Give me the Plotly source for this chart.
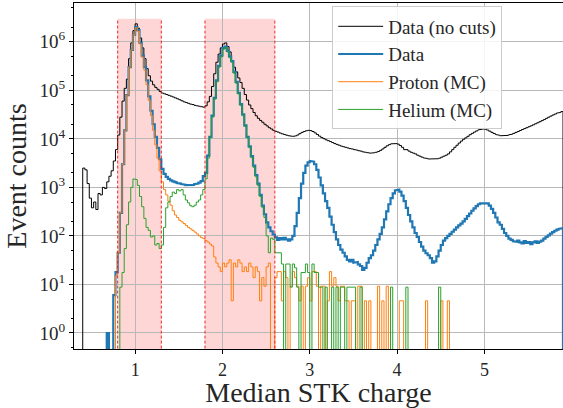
import numpy as np
import plotly.graph_objects as go

# ---------------- data (bin contents, bins of width 0.025 starting at 0.4) ----------------
bin_start = 0.4
bin_width = 0.025

no_cuts = [
    2500, 2300, 1200, 600, 380, 500, 350, 750, 700, 1000, 950, 1300, 1700, 2200, 3500, 6000, 12000, 28000, 60000, 110000,
    170000, 450000, 950000, 1.7e6, 2.35e6, 1.9e6, 1.2e6, 750000, 450000, 280000, 200000, 155000, 130000, 115000, 105000, 95000, 88000, 85000, 82000, 79000,
    76000, 73000, 70000, 67000, 64000, 61000, 58000, 56000, 54000, 52000, 51000, 49000, 48000, 47000, 46000, 45000, 48000, 58000, 75000, 120000,
    220000, 380000, 560000, 750000, 900000, 950000, 800000, 620000, 400000, 300000, 240000, 180000, 145000, 110000, 82000, 63000, 50000, 42000, 35000, 30000,
    26500, 24000, 22000, 20000, 18500, 17000, 16000, 15000, 14300, 13800, 13200, 12700, 12300, 11900, 11600, 11400, 11300, 11500, 12000, 12800,
    13600, 14200, 14700, 15000, 14800, 14200, 13300, 12300, 11400, 10700, 10100, 9600, 9200, 8800, 8400, 8000, 7700, 7400, 7100, 6900,
    6700, 6500, 6300, 6200, 6000, 5900, 5700, 5600, 5400, 5300, 5200, 5100, 5100, 5200, 5300, 5500, 5800, 6200, 6700, 7200,
    7600, 7900, 8100, 8000, 7800, 7300, 6700, 6000, 6000, 5600, 5300, 5100, 4900, 4600, 4400, 4200, 4050, 3950, 3850, 3800,
    3800, 3800, 3900, 4000, 4200, 4400, 4600, 4900, 5400, 6000, 6700, 7400, 8200, 9000, 9800, 10500, 11300, 12200, 13000, 13800,
    14600, 15300, 15800, 16000, 15800, 15200, 14400, 13600, 12900, 12300, 11900, 11600, 11500, 11600, 11800, 12100, 12500, 13000, 13600, 14200,
    14900, 15600, 16300, 17000, 17800, 18600, 19500, 20500, 21500, 22600, 23800, 25000, 26500, 28000, 29500, 31000, 32500, 34000, 35000, 36500,
]

data = [
    0, 0, 0, 0, 0, 0, 0, 0, 0, 0, 0, 1, 0, 0, 6, 18, 45, 300, 3000, 15000,
    80000, 300000, 680000, 1.4e6, 2.0e6, 1.75e6, 950000, 520000, 300000, 160000, 75000, 38000, 20000, 11000, 6500, 3800, 2400, 1900, 1650, 1500,
    1400, 1330, 1280, 1230, 1200, 1170, 1140, 1120, 1100, 1110, 1130, 1160, 1200, 1260, 1350, 1700, 2000, 4500, 11000, 30000,
    70000, 160000, 320000, 520000, 750000, 800000, 650000, 500000, 400000, 240000, 150000, 89000, 52000, 32000, 19000, 11000, 7000, 4400, 2800, 1800,
    1200, 700, 420, 280, 190, 150, 125, 107, 93, 83, 90, 85, 91, 85, 80, 85, 100, 160, 300, 600,
    1200, 2000, 2800, 3300, 3500, 3400, 3000, 2300, 1600, 1100, 750, 520, 380, 250, 170, 120, 85, 65, 52, 45,
    38, 32, 30, 32, 28, 29, 26, 24, 20, 22, 28, 35, 40, 50, 65, 85, 110, 150, 220, 320,
    450, 600, 750, 870, 900, 820, 680, 520, 380, 270, 200, 150, 115, 95, 75, 60, 50, 44, 40, 35,
    28, 30, 38, 50, 65, 80, 90, 100, 110, 122, 135, 150, 165, 180, 200, 225, 255, 290, 330, 370,
    410, 450, 470, 480, 480, 470, 420, 360, 300, 240, 190, 170, 140, 115, 100, 88, 83, 78, 76, 80,
    74, 70, 78, 72, 75, 68, 74, 77, 72, 76, 80, 88, 95, 103, 112, 120, 128, 135, 140, 145,
]

proton_mc = [
    0, 0, 0, 0, 0, 0, 0, 0, 0, 0, 0, 0, 0, 0, 0, 15, 45, 300, 3000, 15000,
    80000, 300000, 680000, 1.4e6, 1.95e6, 1.65e6, 900000, 480000, 260000, 130000, 62000, 30000, 15000, 7500, 4000, 2200, 1300, 900, 700, 520,
    430, 330, 270, 240, 210, 195, 180, 165, 150, 140, 130, 120, 110, 100, 92, 88, 80, 75, 68, 62,
    36.8, 27.6, 23, 18.4, 27.6, 23, 27.6, 32.2, 4.6, 27.6, 23, 32.2, 27.6, 18.4, 23, 18.4, 27.6, 23, 13.8, 23,
    18.4, 4.6, 13.8, 9.2, 23, 27.6, 0, 0, 13.8, 18.4, 18.4, 4.6, 18.4, 13.8, 0, 9.2, 18.4, 13.8, 9.2, 4.6,
    9.2, 0, 9.2, 13.8, 4.6, 18.4, 18.4, 9.2, 0, 9.2, 9.2, 0, 4.6, 18.4, 9.2, 13.8, 9.2, 4.6, 9.2, 9.2,
    4.6, 4.6, 0, 4.6, 4.6, 0, 9.2, 9.2, 0, 4.6, 0, 4.6, 0, 0, 0, 9.2, 0, 4.6, 0, 9.2,
    0, 0, 0, 0, 0, 4.6, 4.6, 0, 0, 0, 0, 0, 0, 0, 0, 0, 0, 4.6, 0, 0,
    0, 0, 0, 0, 4.6, 0, 0, 4.6, 0, 0, 0, 0, 0, 0, 0, 0, 0, 0, 0, 0,
    0, 0, 0, 0, 0, 0, 0, 0, 0, 0, 0, 0, 0, 0, 0, 0, 0, 0, 0, 0,
    0, 0, 0, 0, 0, 0, 0, 0, 0, 0, 0, 0, 0, 0, 0, 0, 0, 0, 0, 0,
]

helium_mc = [
    0, 0, 0, 0, 0, 0, 0, 0, 0, 0, 0, 0, 0, 0, 0, 0, 0, 8.8, 17.6, 55,
    170, 500, 1000, 1500, 1450, 1100, 650, 400, 230, 150, 130, 95, 100, 65, 70, 55, 65, 150, 380, 500,
    650, 800, 750, 900, 850, 900, 700, 550, 480, 420, 400, 430, 500, 550, 700, 900, 1500, 4000, 10500, 28000,
    66000, 150000, 300000, 490000, 700000, 760000, 620000, 470000, 380000, 225000, 140000, 84000, 49000, 30000, 18000, 10500, 6600, 4100, 2600, 1650,
    1100, 650, 390, 240, 100, 45, 90, 85, 45, 45, 45, 26.4, 0, 26.4, 26.4, 8.8, 26.4, 22, 8.8, 0,
    17.6, 17.6, 26.4, 17.6, 0, 26.4, 17.6, 17.6, 8.8, 8.8, 0, 8.8, 0, 0, 8.8, 0, 8.8, 0, 8.8, 8.8,
    0, 8.8, 8.8, 8.8, 8.8, 0, 0, 8.8, 0, 0, 0, 0, 0, 0, 0, 0, 0, 0, 0, 0,
    0, 8.8, 0, 0, 0, 0, 0, 0, 8.8, 0, 0, 0, 0, 0, 0, 0, 0, 0, 0, 0,
    0, 0, 0, 8.8, 0, 0, 0, 0, 0, 0, 0, 0, 0, 0, 0, 0, 0, 0, 0, 0,
    0, 0, 0, 0, 0, 0, 0, 0, 0, 0, 0, 0, 0, 0, 0, 0, 0, 0, 0, 0,
    0, 0, 0, 0, 0, 0, 0, 0, 0, 0, 0, 0, 0, 0, 0, 0, 0, 0, 0, 0,
]

series_names = ["Data (no cuts)", "Data", "Proton (MC)", "Helium (MC)"]
series_colors = ["black", "#1f77b4", "#ff7f0e", "#2ca02c"]
series_widths = [1, 2.2, 1, 1]

cut_windows = [(0.8, 1.3), (1.8, 2.6)]
cut_top = 3e6

x_ticks = [1, 2, 3, 4, 5]
y_decades = [0, 1, 2, 3, 4, 5, 6]

FLOOR = 1e-3  # empty bins drop below the axis, like a matplotlib step histogram


def step_xy(vals):
    v = np.asarray(vals, dtype=float)
    edges = bin_start + bin_width * np.arange(len(v) + 1)
    v = np.where(v > 0, v, FLOOR)
    xs = np.concatenate([[edges[0]], np.repeat(edges, 2)[1:-1], [edges[-1]]])
    ys = np.concatenate([[FLOOR], np.repeat(v, 2), [FLOOR]])
    return xs, ys


fig = go.Figure()
for vals, name, col, lw in zip([no_cuts, data, proton_mc, helium_mc],
                               series_names, series_colors, series_widths):
    xs, ys = step_xy(vals)
    fig.add_trace(go.Scatter(x=xs, y=ys, mode="lines", name=name,
                             line=dict(color=col, width=lw), hoverinfo="skip"))

shapes = []
for lo, hi in cut_windows:
    shapes.append(dict(type="rect", xref="x", yref="y", x0=lo, x1=hi, y0=FLOOR, y1=cut_top,
                       fillcolor="rgba(255,0,0,0.16)", line=dict(width=0), layer="below"))
    for xv in (lo, hi):
        shapes.append(dict(type="line", xref="x", yref="y", x0=xv, x1=xv, y0=FLOOR, y1=cut_top,
                           line=dict(color="rgba(235,20,20,0.9)", width=1, dash="3px,2px"),
                           layer="above"))

FONT = "Liberation Serif"
TXT = "#262626"
fig.update_layout(
    width=563, height=408,
    margin=dict(l=74, r=0, t=3, b=59),
    plot_bgcolor="white", paper_bgcolor="white",
    font=dict(family=FONT, color=TXT, size=19),
    shapes=shapes,
    showlegend=True,
    legend=dict(x=0.528, y=0.99, xanchor="left", yanchor="top",
                bgcolor="rgba(255,255,255,0.85)", bordercolor="#cccccc", borderwidth=1,
                font=dict(family=FONT, size=19, color=TXT), itemwidth=45),
)
fig.update_xaxes(
    range=[0.3, 5.9], tickvals=x_ticks, ticks="outside", ticklen=4, tickcolor="black",
    showline=True, mirror=True, linecolor="black", linewidth=1,
    showgrid=True, gridcolor="#b8b8b8", gridwidth=1, zeroline=False,
    tickfont=dict(family=FONT, size=18, color=TXT),
    title=dict(text="Median STK charge", font=dict(family=FONT, size=28, color=TXT), standoff=8),
)
fig.update_yaxes(
    type="log", range=[-0.33, 6.8],
    tickvals=[10.0 ** k for k in y_decades],
    ticktext=[f"10<sup>{k}</sup>" for k in y_decades],
    ticks="outside", ticklen=4, tickcolor="black",
    minor=dict(ticks="outside", ticklen=2, tickcolor="black", showgrid=False),
    showline=True, mirror=True, linecolor="black", linewidth=1,
    showgrid=True, gridcolor="#b8b8b8", gridwidth=1, zeroline=False,
    tickfont=dict(family=FONT, size=19, color=TXT),
    title=dict(text="Event counts", font=dict(family=FONT, size=28, color=TXT), standoff=4),
)

fig.write_html("out.html")
